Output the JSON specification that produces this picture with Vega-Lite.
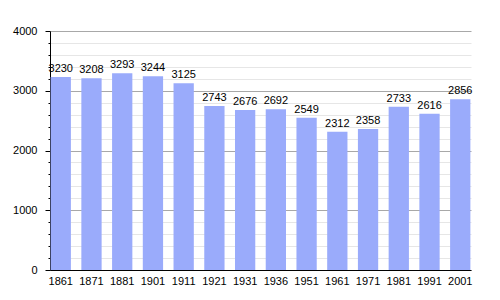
{
  "$schema": "https://vega.github.io/schema/vega-lite/v6.json",
  "autosize": "none",
  "width": 421,
  "height": 239,
  "padding": {"left": 50, "top": 31, "right": 29, "bottom": 30},
  "background": "white",
  "data": {"values": [
    {"year": "1861", "pop": 3230},
    {"year": "1871", "pop": 3208},
    {"year": "1881", "pop": 3293},
    {"year": "1901", "pop": 3244},
    {"year": "1911", "pop": 3125},
    {"year": "1921", "pop": 2743},
    {"year": "1931", "pop": 2676},
    {"year": "1936", "pop": 2692},
    {"year": "1951", "pop": 2549},
    {"year": "1961", "pop": 2312},
    {"year": "1971", "pop": 2358},
    {"year": "1981", "pop": 2733},
    {"year": "1991", "pop": 2616},
    {"year": "2001", "pop": 2856}
  ]},
  "config": {
    "view": {"stroke": null},
    "font": "Liberation Sans"
  },
  "encoding": {
    "x": {
      "field": "year", "type": "ordinal", "sort": null,
      "scale": {"paddingInner": 0.34, "paddingOuter": 0.02},
      "axis": {
        "title": null, "labelAngle": 0, "ticks": false, "labelPadding": 5,
        "domainColor": "#000000", "labelColor": "#000000",
        "labelFont": "Liberation Sans", "labelFontSize": 11
      }
    },
    "y": {
      "field": "pop", "type": "quantitative",
      "scale": {"domain": [0, 4000], "nice": false},
      "axis": {
        "title": null,
        "values": [0,200,400,600,800,1000,1200,1400,1600,1800,2000,2200,2400,2600,2800,3000,3200,3400,3600,3800,4000],
        "labelExpr": "datum.value % 1000 === 0 ? datum.label : ''",
        "format": "d",
        "grid": true,
        "gridColor": {"condition": {"test": "datum.value % 1000 === 0", "value": "#a8a8a8"}, "value": "#e6e6e6"},
        "tickSize": {"condition": {"test": "datum.value % 1000 === 0", "value": 5}, "value": 2},
        "tickColor": "#000000",
        "domainColor": "#000000",
        "labelColor": "#000000",
        "labelPadding": 8,
        "labelFont": "Liberation Sans",
        "labelFontSize": 11
      }
    }
  },
  "layer": [
    {"mark": {"type": "bar", "color": "#9aabfb"}},
    {
      "mark": {"type": "text", "baseline": "bottom", "dy": -3, "fontSize": 11, "color": "#000000", "font": "Liberation Sans"},
      "encoding": {"text": {"field": "pop", "type": "quantitative", "format": "d"}}
    }
  ]
}
